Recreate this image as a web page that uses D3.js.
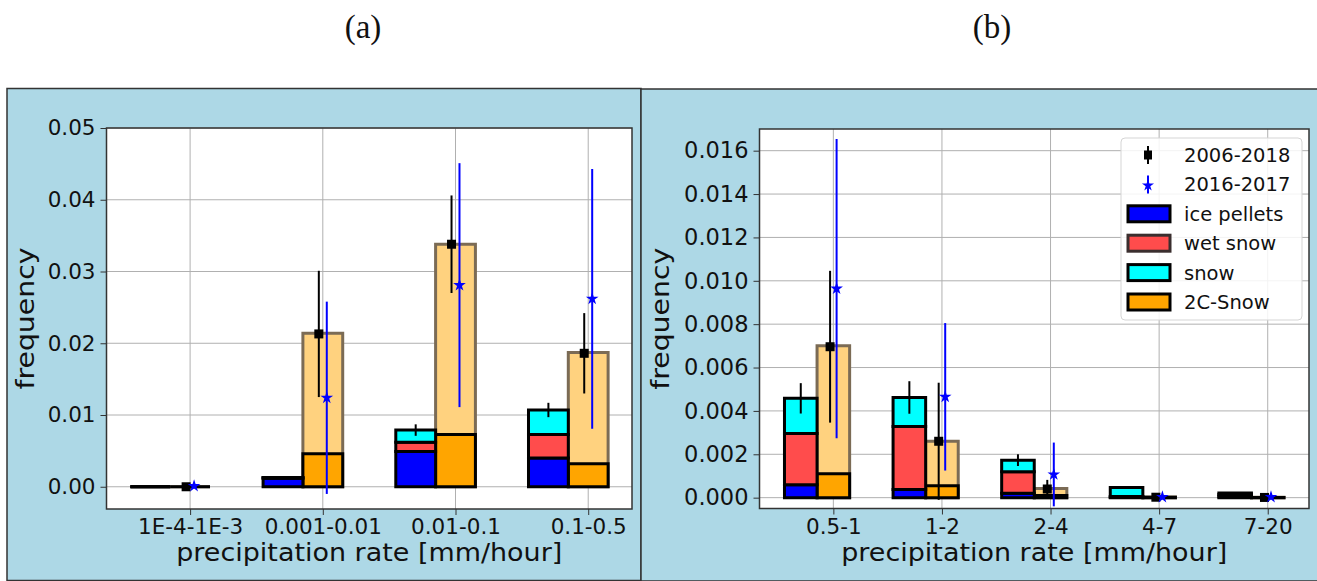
<!DOCTYPE html>
<html>
<head>
<meta charset="utf-8">
<script src="https://cdn.jsdelivr.net/npm/d3@7"></script>
<style>
  body { margin: 0; background: #fff; }
  svg text { font-family: "DejaVu Sans", sans-serif; fill: #111; }
</style>
</head>
<body>
<div id="chart"></div>
<script>
// ---- panel (a) data ----
var catsA = ["1E-4-1E-3", "0.001-0.01", "0.01-0.1", "0.1-0.5"];
var iceA = [0, 0.0012, 0.0049, 0.0040];
var wetA = [0, 0.00005, 0.0013, 0.0033];
var snowA = [0, 0.00005, 0.0017, 0.0034];
var stackErrA = [0, 0, 0.0008, 0.0010];
var c2DarkA = [0, 0.0046, 0.0073, 0.0032];
var c2LightA = [0, 0.0214, 0.0338, 0.0187];
var obsA = [0, 0.0213, 0.0338, 0.0186];      // 2006-2018
var obsErrA = [0.0001, 0.0088, 0.0068, 0.0056];
var newA = [0.0001, 0.0124, 0.0281, 0.0262];  // 2016-2017
var newErrA = [0.0001, 0.0134, 0.0170, 0.0181];
var yTicksA = [0, 0.01, 0.02, 0.03, 0.04, 0.05];

// ---- panel (b) data ----
var catsB = ["0.5-1", "1-2", "2-4", "4-7", "7-20"];
var iceB = [0.0006, 0.00038, 0.0002, 0.00002, 0.00004];
var wetB = [0.00236, 0.0029, 0.0010, 0.00003, 0.00011];
var snowB = [0.00162, 0.00134, 0.00053, 0.00042, 0.00007];
var stackErrB = [0.0007, 0.00075, 0.00027, 0, 0];
var c2DarkB = [0.0011, 0.00055, 0.0001, 0.00002, 0.00001];
var c2LightB = [0.0070, 0.0026, 0.00042, 0.00003, 0.00002];
var obsB = [0.00696, 0.0026, 0.0004, 0.00002, 0.00001];
var obsErrB = [0.0035, 0.0027, 0.00042, 0.00002, 0.00001];
var newB = [0.00964, 0.00465, 0.00107, 0.00003, 0.00003];
var newErrB = [0.0069, 0.0034, 0.00147, 0.00002, 0.00002];
var yTicksB = [0, 0.002, 0.004, 0.006, 0.008, 0.010, 0.012, 0.014, 0.016];

var legendItems = [
  { label: "2006-2018", kind: "obs" },
  { label: "2016-2017", kind: "new" },
  { label: "ice pellets", kind: "patch", fill: "#0000ff", edge: "#000" },
  { label: "wet snow", kind: "patch", fill: "#ff4c4c", edge: "#3a2e2e" },
  { label: "snow", kind: "patch", fill: "#00ffff", edge: "#000" },
  { label: "2C-Snow", kind: "patch", fill: "#ffa500", edge: "#000" }
];

var svg = d3.select("#chart").append("svg")
  .attr("width", 1317)
  .attr("height", 581);

function barPath(x0, x1, y0, y1) {
  return "M" + x0 + "," + y0 + "H" + x1 + "V" + y1 + "H" + x0 + "Z";
}

function drawPanel(cfg) {
  var g = svg.append("g");

  // blue figure background
  g.append("rect")
    .attr("x", cfg.box[0]).attr("y", cfg.box[1])
    .attr("width", cfg.box[2]).attr("height", cfg.box[3])
    .attr("fill", "#add8e6")
    .attr("stroke", "#333").attr("stroke-width", 1.5);

  svg.append("text")
    .attr("x", cfg.titleX).attr("y", 38)
    .attr("text-anchor", "middle")
    .style("font-family", "'Liberation Serif', 'Times New Roman', serif")
    .style("font-size", "33px")
    .text(cfg.title);

  var n = cfg.cats.length;
  var pad = 0.05 * (n - 1 + 0.6);
  var x = d3.scaleLinear()
    .domain([-0.45 - pad, n - 1 + 0.15 + pad])
    .range([cfg.left, cfg.right]);
  var y = d3.scaleLinear()
    .domain(cfg.yDomain)
    .range([cfg.bottom, cfg.top]);

  g.append("rect")
    .attr("x", cfg.left).attr("y", cfg.top)
    .attr("width", cfg.right - cfg.left).attr("height", cfg.bottom - cfg.top)
    .attr("fill", "#fff");

  // grid
  var grid = g.append("g");
  grid.selectAll(".gy").data(cfg.yTicks).enter().append("line")
    .attr("x1", cfg.left).attr("x2", cfg.right)
    .attr("y1", d => y(d)).attr("y2", d => y(d))
    .attr("stroke", "#b0b0b0").attr("stroke-width", 1);
  grid.selectAll(".gx").data(d3.range(n)).enter().append("line")
    .attr("y1", cfg.top).attr("y2", cfg.bottom)
    .attr("x1", d => x(d)).attr("x2", d => x(d))
    .attr("stroke", "#b0b0b0").attr("stroke-width", 1);

  var bw = 0.3;
  var bars = g.append("g");

  // 2C-Snow total (light) then the dark part
  bars.selectAll(".light").data(cfg.c2Light).enter().append("path")
    .attr("d", (d, i) => barPath(x(i - bw / 2), x(i + bw / 2), y(0), y(d)))
    .attr("fill", "#ffd27f")
    .attr("stroke", "#7b6b55").attr("stroke-width", 3);
  bars.selectAll(".dark").data(cfg.c2Dark).enter().append("path")
    .attr("d", (d, i) => barPath(x(i - bw / 2), x(i + bw / 2), y(0), y(d)))
    .attr("fill", "#ffa500")
    .attr("stroke", "#000").attr("stroke-width", 3);

  // stacked ice pellets / wet snow / snow
  var layers = [
    { v: cfg.ice, c: "#0000ff" },
    { v: cfg.wet, c: "#ff4c4c" },
    { v: cfg.snow, c: "#00ffff" }
  ];
  var base = cfg.cats.map(() => 0);
  layers.forEach(function (L) {
    bars.selectAll(null).data(L.v).enter().append("path")
      .attr("d", (d, i) => barPath(x(i - 0.3 - bw / 2), x(i - 0.3 + bw / 2), y(base[i]), y(base[i] + d)))
      .attr("fill", L.c)
      .attr("stroke", "#000").attr("stroke-width", 3);
    L.v.forEach((d, i) => { base[i] += d; });
  });

  // error bar on stacked bar
  bars.selectAll(".serr").data(cfg.stackErr).enter().append("line")
    .attr("x1", (d, i) => x(i - 0.3)).attr("x2", (d, i) => x(i - 0.3))
    .attr("y1", (d, i) => y(base[i] - d)).attr("y2", (d, i) => y(base[i] + d))
    .attr("stroke", "#000").attr("stroke-width", 2);

  // 2006-2018 (black squares)
  var off = 0.03;
  bars.selectAll(".oerr").data(cfg.obs).enter().append("line")
    .attr("x1", (d, i) => x(i - off)).attr("x2", (d, i) => x(i - off))
    .attr("y1", (d, i) => y(d - cfg.obsErr[i])).attr("y2", (d, i) => y(d + cfg.obsErr[i]))
    .attr("stroke", "#000").attr("stroke-width", 2);
  bars.selectAll(".omk").data(cfg.obs).enter().append("rect")
    .attr("x", (d, i) => x(i - off) - 4.5).attr("y", d => y(d) - 4.5)
    .attr("width", 9).attr("height", 9)
    .attr("fill", "#000");

  // 2016-2017 (blue stars)
  bars.selectAll(".nerr").data(cfg.newv).enter().append("line")
    .attr("x1", (d, i) => x(i + off)).attr("x2", (d, i) => x(i + off))
    .attr("y1", (d, i) => y(d - cfg.newErr[i])).attr("y2", (d, i) => y(d + cfg.newErr[i]))
    .attr("stroke", "#0000ff").attr("stroke-width", 2);
  bars.selectAll(".nmk").data(cfg.newv).enter().append("path")
    .attr("d", d3.symbol(d3.symbolStar).size(50))
    .attr("transform", (d, i) => "translate(" + x(i + off) + "," + y(d) + ")")
    .attr("fill", "#0000ff");

  // axes
  var yAxis = d3.axisLeft(y).tickValues(cfg.yTicks).tickFormat(d3.format(cfg.yFmt))
    .tickSize(6).tickPadding(5);
  var ya = g.append("g").attr("transform", "translate(" + cfg.left + ",0)").call(yAxis);
  ya.select(".domain").remove();
  ya.selectAll("text").style("font-size", cfg.yFont + "px").style("fill", "#111");
  ya.selectAll("line").attr("stroke", "#333");

  var xAxis = d3.axisBottom(x).tickValues(d3.range(n)).tickFormat(i => cfg.cats[i])
    .tickSize(6).tickPadding(4);
  var xa = g.append("g").attr("transform", "translate(0," + cfg.bottom + ")").call(xAxis);
  xa.select(".domain").remove();
  xa.selectAll("text").style("font-size", "21.5px").style("fill", "#111");
  xa.selectAll("line").attr("stroke", "#333");

  g.append("rect")
    .attr("x", cfg.left).attr("y", cfg.top)
    .attr("width", cfg.right - cfg.left).attr("height", cfg.bottom - cfg.top)
    .attr("fill", "none").attr("stroke", "#333").attr("stroke-width", 1.5);

  g.append("text")
    .attr("x", (cfg.left + cfg.right) / 2).attr("y", 561)
    .attr("text-anchor", "middle")
    .attr("textLength", 386).attr("lengthAdjust", "spacingAndGlyphs")
    .style("font-size", "25px")
    .text("precipitation rate [mm/hour]");

  g.append("text")
    .attr("transform", "translate(" + cfg.ylabelX + "," + ((cfg.top + cfg.bottom) / 2) + ") rotate(-90)")
    .attr("text-anchor", "middle")
    .attr("textLength", 142).attr("lengthAdjust", "spacingAndGlyphs")
    .style("font-size", "25px")
    .text("frequency");

  return { x: x, y: y, g: g };
}

drawPanel({
  box: [7, 88.5, 634, 492], title: "(a)", titleX: 363,
  left: 106.5, right: 632, top: 128, bottom: 509,
  cats: catsA, ice: iceA, wet: wetA, snow: snowA, stackErr: stackErrA,
  c2Dark: c2DarkA, c2Light: c2LightA, obs: obsA, obsErr: obsErrA,
  newv: newA, newErr: newErrA,
  yDomain: [-0.0031, 0.05], yTicks: yTicksA, yFmt: ".2f", yFont: 21.5, ylabelX: 34
});

drawPanel({
  box: [641, 89, 680, 492], title: "(b)", titleX: 992,
  left: 759.5, right: 1309, top: 129, bottom: 508.5,
  cats: catsB, ice: iceB, wet: wetB, snow: snowB, stackErr: stackErrB,
  c2Dark: c2DarkB, c2Light: c2LightB, obs: obsB, obsErr: obsErrB,
  newv: newB, newErr: newErrB,
  yDomain: [-0.0005, 0.017], yTicks: yTicksB, yFmt: ".3f", yFont: 22.5, ylabelX: 669
});

// legend in panel (b)
var lg = svg.append("g");
lg.append("rect")
  .attr("x", 1121).attr("y", 138).attr("width", 181).attr("height", 182)
  .attr("rx", 4)
  .attr("fill", "#fff").attr("fill-opacity", 0.85)
  .attr("stroke", "#d5d5d5");
var row = lg.selectAll(".item").data(legendItems).enter().append("g")
  .attr("transform", (d, i) => "translate(0," + (155 + i * 29.4) + ")");
row.filter(d => d.kind === "patch").append("rect")
  .attr("x", 1128).attr("y", -8).attr("width", 42).attr("height", 16)
  .attr("fill", d => d.fill).attr("stroke", d => d.edge).attr("stroke-width", 3);
row.filter(d => d.kind === "obs").append("line")
  .attr("x1", 1148).attr("x2", 1148).attr("y1", -9).attr("y2", 9)
  .attr("stroke", "#000").attr("stroke-width", 2);
row.filter(d => d.kind === "obs").append("rect")
  .attr("x", 1144).attr("y", -4.5).attr("width", 8).attr("height", 9).attr("fill", "#000");
row.filter(d => d.kind === "new").append("line")
  .attr("x1", 1148).attr("x2", 1148).attr("y1", -9).attr("y2", 9)
  .attr("stroke", "#0000ff").attr("stroke-width", 2);
row.filter(d => d.kind === "new").append("path")
  .attr("d", d3.symbol(d3.symbolStar).size(45))
  .attr("transform", "translate(1148,1)")
  .attr("fill", "#0000ff");
row.append("text")
  .attr("x", 1184).attr("y", 0).attr("dy", "0.36em")
  .style("font-size", "19.5px")
  .text(d => d.label);
</script>
</body>
</html>
